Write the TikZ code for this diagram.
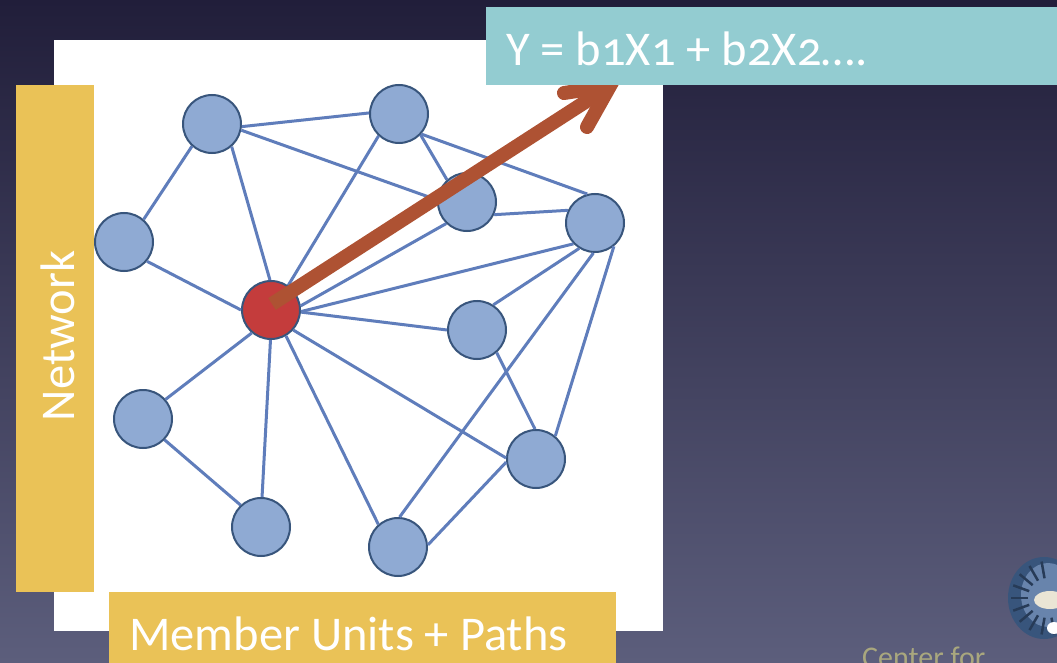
\documentclass[tikz,border=0pt]{standalone}
\usepackage{fontspec}
\setmainfont[Numbers=OldStyle]{Carlito}
\definecolor{bgtop}{HTML}{211E3A}
\definecolor{bgbot}{HTML}{5C5E7C}
\definecolor{nodefill}{HTML}{8FAAD3}
\definecolor{nodeline}{HTML}{38557C}
\definecolor{edgecol}{HTML}{5F7DBB}
\definecolor{redfill}{HTML}{C43C3C}
\definecolor{goldc}{HTML}{EAC257}
\definecolor{tealc}{HTML}{93CCD1}
\definecolor{arrowc}{HTML}{AE5233}
\definecolor{logotext}{HTML}{A9A77E}
\tikzset{
 x=1pt,y=-1pt,
 unit/.style={circle,draw=nodeline,line width=2pt,fill=nodefill,minimum size=58pt,inner sep=0pt},
 hub/.style={unit,fill=redfill},
 link/.style={edgecol,line width=3pt},
 band/.style={fill=goldc,draw=none,inner sep=0pt},
 label/.style={text=white,font=\fontsize{48.5}{52}\selectfont,inner sep=0pt},
 pointer/.style={arrowc,line width=14pt,line join=miter},
}
\begin{document}
\begin{tikzpicture}
\useasboundingbox (0,0) rectangle (1057,663);
\clip (0,0) rectangle (1057,663);
\shade[top color=bgtop,bottom color=bgbot,draw=none] (0,0) rectangle (1057,663);
\fill[white] (54,40) rectangle (663,631);
\node[unit] (u0) at (212,124) {};
\node[unit] (u1) at (399,114) {};
\node[unit] (u2) at (467,202) {};
\node[unit] (u3) at (595,223) {};
\node[unit] (u4) at (124,242) {};
\node[hub]  (u5) at (271,310) {};
\node[unit] (u6) at (477,330) {};
\node[unit] (u7) at (143,419) {};
\node[unit] (u8) at (536,459) {};
\node[unit] (u9) at (261,527) {};
\node[unit] (u10) at (398,547) {};
\foreach \a/\aa/\b/\bb in {
 0/-5/1/178, 0/-12/2/176, 0/228/4/49, 0/-49/5/92,
 1/227/5/55, 1/-44/2/132, 1/-42/3/105,
 2/-25/3/155, 2/226/5/8,
 3/224/5/-3, 3/238/6/57, 3/267/10/87, 3/-51/8/50,
 4/-40/5/180,
 5/-4/6/180, 5/230/7/41, 5/-42/8/178, 5/-91/9/88, 5/-60/10/131,
 6/-49/8/92, 7/-44/9/133, 8/186/10/4}
 \draw[link] (u\a.\aa) -- (u\b.\bb);
\fill[band] (16,85) rectangle (94,592);
\node[label,rotate=90] (net) at (58,336) {Network};
\fill[band] (109,592) rectangle (616,663);
\node[label,anchor=west] (mem) at (129,634) {Member Units + Paths};
\coordinate (shaftstart) at (272,304);
\coordinate (tip) at (610,86);
\coordinate (barbA) at (564,93);
\coordinate (barbB) at (587,127);
\draw[pointer] (shaftstart) -- (tip);
\draw[pointer,line cap=round] (barbA) -- (tip) -- (barbB);
\fill[tealc] (486,7) rectangle (1057,85);
\node[label,anchor=west] (eq) at (506,49) {Y = b1X1 + b2X2….};
% logo, cut off by the right edge
\fill[nodeline] (1044,598) ellipse (36pt and 41pt);
\fill[nodefill!55!nodeline] (1048,595) ellipse (27pt and 32pt);
\foreach \ang in {100,120,...,280}
 \draw[nodeline!70!black,line width=2.5pt] (1048,598) ++(\ang:20pt) -- ++(\ang:17pt);
\fill[goldc!25!white!85!nodefill] (1050,600) ellipse (16pt and 9pt);
\fill[white] (1054,628) ellipse (7pt and 6pt);
\node[text=logotext,font=\fontsize{30}{32}\selectfont,anchor=base west,inner sep=0pt] (ctr) at (862,667) {Center for};
\end{tikzpicture}
\end{document}
